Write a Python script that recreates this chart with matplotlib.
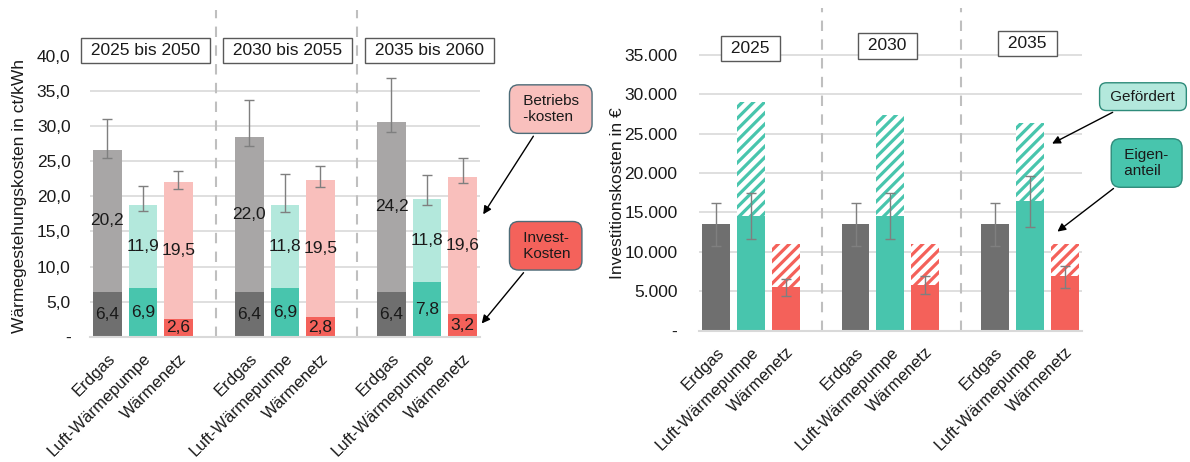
import matplotlib.pyplot as plt
from matplotlib.ticker import FuncFormatter

plt.rcParams['font.family'] = ['Liberation Sans', 'DejaVu Sans']
plt.rcParams['hatch.linewidth'] = 2.3

techs = ['Erdgas', 'Luft-Wärmepumpe', 'Wärmenetz']

# links: Wärmegestehungskosten ct/kWh
perioden = ['2025 bis 2050', '2030 bis 2055', '2035 bis 2060']
invest_ct = [[6.4, 6.9, 2.6], [6.4, 6.9, 2.8], [6.4, 7.8, 3.2]]
betrieb_ct = [[20.2, 11.9, 19.5], [22.0, 11.8, 19.5], [24.2, 11.8, 19.6]]
err_hi_ct = [[31.0, 21.4, 23.6], [33.7, 23.2, 24.35], [36.8, 23.0, 25.5]]
err_lo_ct = [[25.4, 17.95, 21.0], [27.2, 17.8, 21.3], [29.2, 18.7, 21.85]]

# rechts: Investitionskosten in Euro
jahre = ['2025', '2030', '2035']
eigen_eur = [[13500, 14500, 5500], [13500, 14500, 5800], [13500, 16400, 6900]]
foerder_eur = [[0, 14500, 5500], [0, 12900, 5200], [0, 10000, 4100]]
err_hi_eur = [[16200, 17500, 6600], [16200, 17500, 7000], [16200, 19600, 8150]]
err_lo_eur = [[10800, 11600, 4450], [10800, 11600, 4650], [10800, 13100, 5450]]

dunkel = ['#6f6f6f', '#48c5ad', '#f4615a']
hell = ['#a8a6a6', '#b3e8dc', '#f9bfbc']
grid_c = '#d9d9d9'
txt_c = '#1a1a1a'
fs = 12.5

fig = plt.figure(figsize=(11.9, 4.62), dpi=100)
ax1 = fig.add_axes([0.0756, 0.2708, 0.3277, 0.7076])
ax2 = fig.add_axes([0.5874, 0.2842, 0.3216, 0.6985])

pos = [[g * 4 + i for i in range(3)] for g in range(3)]
flat_pos = [p for grp in pos for p in grp]


def style_axes(ax, grid_vals, ypad):
    for s in ['top', 'right', 'left']:
        ax.spines[s].set_visible(False)
    ax.spines['bottom'].set_color(grid_c)
    ax.spines['bottom'].set_linewidth(1.5)
    for v in grid_vals:
        ax.axhline(v, color=grid_c, lw=1.2, zorder=0)
    for sep in [3.05, 7.03]:
        ax.axvline(sep, color='#bfbfbf', lw=1.5, ls=(0, (5, 4)), zorder=0)
    ax.tick_params(axis='y', length=0, pad=ypad, labelsize=fs, labelcolor=txt_c)
    ax.tick_params(axis='x', length=0, pad=10, labelsize=12, labelcolor=txt_c)
    ax.set_xticks(flat_pos)
    ax.set_xticklabels(techs * 3, rotation=45, ha='right', va='top',
                       rotation_mode='anchor')
    ax.set_xlim(-0.49, 10.49)


# ---- links
for g in range(3):
    for i in range(3):
        p = pos[g][i]
        inv = invest_ct[g][i]
        bet = betrieb_ct[g][i]
        b1 = ax1.bar(p, inv, width=0.8, color=dunkel[i], zorder=2)
        b2 = ax1.bar(p, bet, bottom=inv, width=0.8, color=hell[i], zorder=2)
        ax1.bar_label(b1, labels=[f'{inv:.1f}'.replace('.', ',')], label_type='center',
                      fontsize=fs, color=txt_c, zorder=4)
        ax1.bar_label(b2, labels=[f'{bet:.1f}'.replace('.', ',')], label_type='center',
                      fontsize=fs, color=txt_c, zorder=4)
        mid = (err_hi_ct[g][i] + err_lo_ct[g][i]) / 2
        half = (err_hi_ct[g][i] - err_lo_ct[g][i]) / 2
        ax1.errorbar(p, mid, yerr=half, fmt='none', ecolor='#7f7f7f', elinewidth=1,
                     capsize=3.5, capthick=1, zorder=3)
    ax1.text(g * 4 + 1.07, 40.74, ' ' + perioden[g] + ' ', ha='center', va='center',
             fontsize=fs, color=txt_c,
             bbox=dict(boxstyle='square,pad=0.3', fc='white', ec='#595959', lw=1))

style_axes(ax1, [5, 10, 15, 20, 25, 30, 35], 14)
ax1.set_ylim(0, 46.5)
ax1.set_yticks(range(0, 41, 5))
ax1.yaxis.set_major_formatter(FuncFormatter(
    lambda v, _: '-' if v == 0 else f'{v:.1f}'.replace('.', ',')))
ax1.set_ylabel('Wärmegestehungskosten in ct/kWh', fontsize=fs, color=txt_c)
ax1.yaxis.set_label_coords(-0.162, 0.431)

box_kw = dict(ha='left', va='center', fontsize=11, color=txt_c, annotation_clip=False,
              arrowprops=dict(arrowstyle='-|>', color='black', lw=1, mutation_scale=12))
ax1.annotate(' Betriebs \n -kosten', xy=(10.54, 17.1), xytext=(11.58, 32.4),
             bbox=dict(boxstyle='round,pad=0.6', fc='#f9c0bd', ec='#4d6c78', lw=1), **box_kw)
ax1.annotate(' Invest- \n Kosten', xy=(10.49, 1.6), xytext=(11.58, 12.96),
             bbox=dict(boxstyle='round,pad=0.6', fc='#f4625b', ec='#4d6c78', lw=1), **box_kw)

# ---- rechts
for g in range(3):
    for i in range(3):
        p = pos[g][i]
        e = eigen_eur[g][i]
        f = foerder_eur[g][i]
        ax2.bar(p, e, width=0.8, color=dunkel[i], zorder=2)
        if f > 0:
            ax2.bar(p, f, bottom=e, width=0.8, facecolor='white', edgecolor=dunkel[i],
                    hatch='///', lw=0, zorder=2)
        mid = (err_hi_eur[g][i] + err_lo_eur[g][i]) / 2
        half = (err_hi_eur[g][i] - err_lo_eur[g][i]) / 2
        ax2.errorbar(p, mid, yerr=half, fmt='none', ecolor='#7f7f7f', elinewidth=1,
                     capsize=3.5, capthick=1, zorder=3)

jahr_x = [0.98, 4.92, 8.94]
jahr_y = [35790, 36130, 36470]
for g in range(3):
    ax2.text(jahr_x[g], jahr_y[g], ' ' + jahre[g] + ' ', ha='center', va='center',
             fontsize=fs, color=txt_c,
             bbox=dict(boxstyle='square,pad=0.3', fc='white', ec='#595959', lw=1))

style_axes(ax2, [5000, 10000, 15000, 20000, 25000, 30000, 35000], 15.5)
ax2.set_ylim(0, 40950)
ax2.set_yticks(range(0, 35001, 5000))
ax2.yaxis.set_major_formatter(FuncFormatter(
    lambda v, _: '-' if v == 0 else f'{int(v):,}'.replace(',', '.')))
ax2.set_ylabel('Investitionskosten in €', fontsize=fs, color=txt_c)
ax2.yaxis.set_label_coords(-0.193, 0.427)

ax2.annotate(' Gefördert ', xy=(9.57, 23580), xytext=(11.2, 29700),
             bbox=dict(boxstyle='round,pad=0.45', fc='#b3e8dc', ec='#2e8b7a', lw=1), **box_kw)
ax2.annotate(' Eigen- \n anteil', xy=(9.73, 12360), xytext=(11.6, 21280),
             bbox=dict(boxstyle='round,pad=0.6', fc='#48c5ad', ec='#2e8b7a', lw=1), **box_kw)

fig.savefig('out.png', dpi=100)
